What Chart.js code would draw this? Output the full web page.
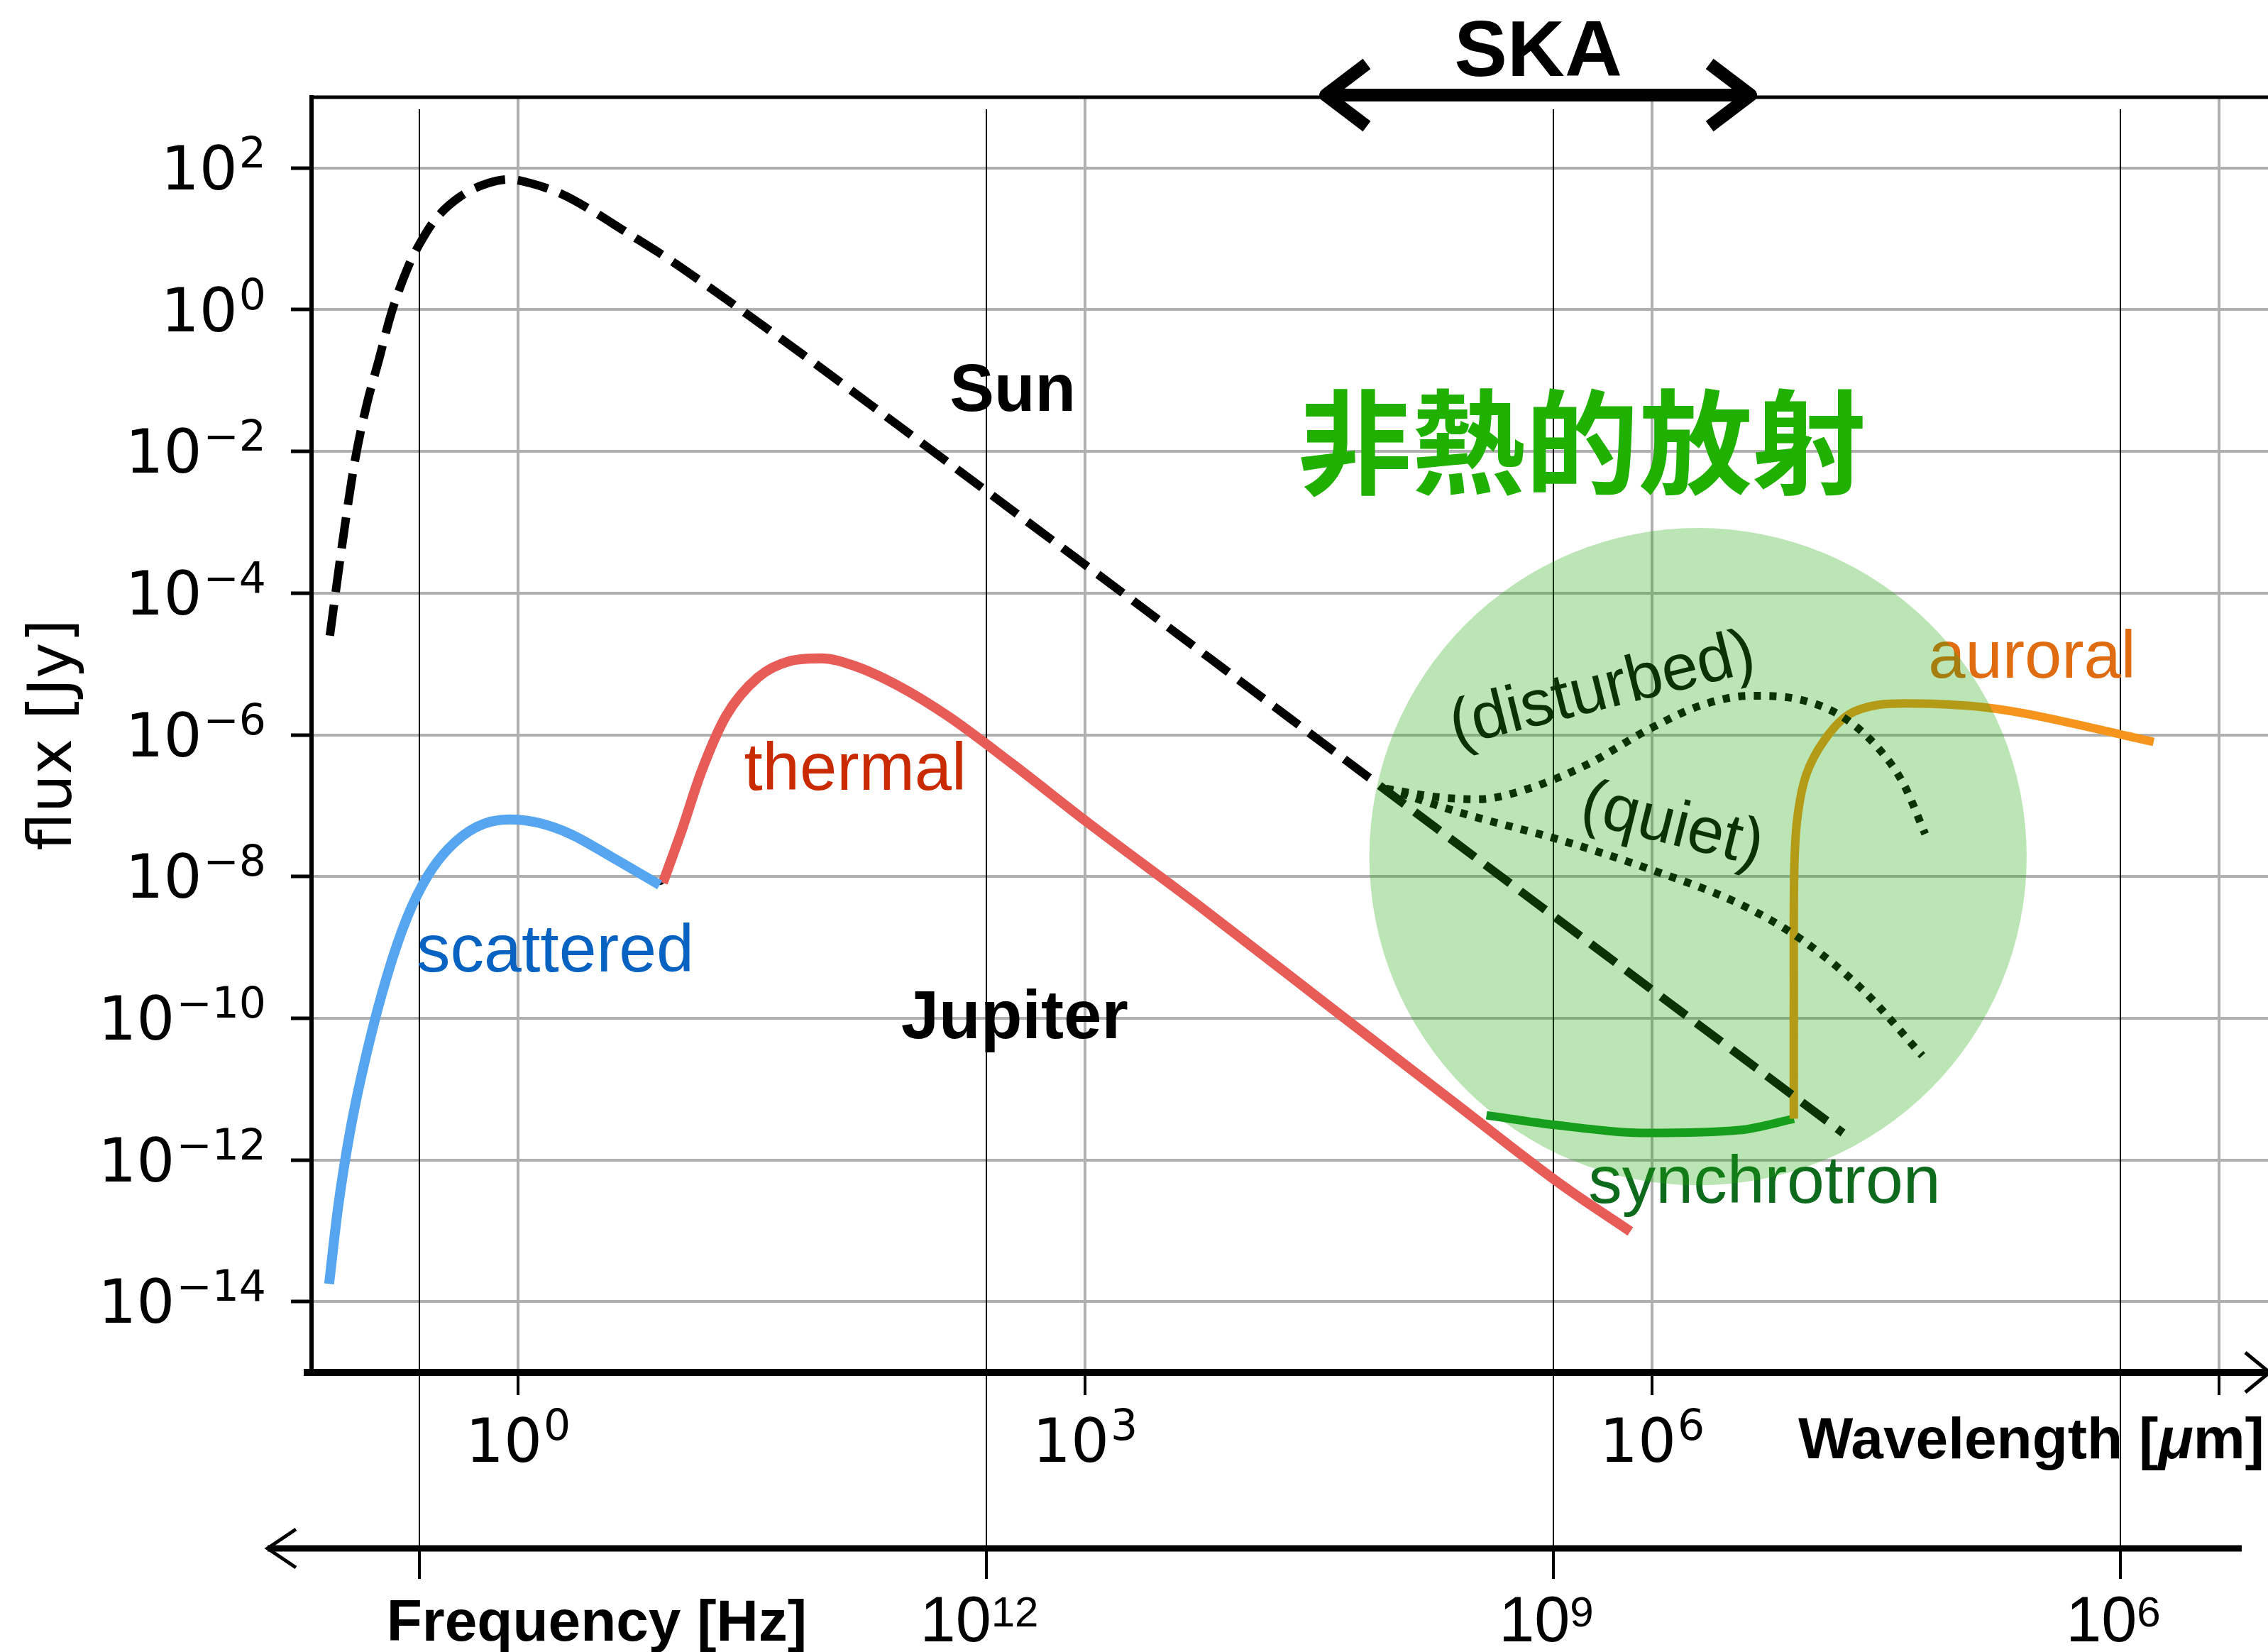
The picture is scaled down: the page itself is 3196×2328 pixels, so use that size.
<!DOCTYPE html>
<html>
<head>
<meta charset="utf-8">
<title>Sun / Jupiter spectra</title>
<script src="https://cdn.jsdelivr.net/npm/chart.js@4.4.1/dist/chart.umd.min.js"></script>
<style>
  html, body { margin: 0; padding: 0; background: #fff; }
  canvas { display: block; }
</style>
</head>
<body>
<canvas id="spectrumChart" width="3196" height="2328"></canvas>
<script>
// All curves: x = log10(wavelength [um]), y = log10(flux [Jy])

const sunX = [-0.996, -0.931, -0.866, -0.801, -0.736, -0.672, -0.586, -0.521, -0.435, -0.305, -0.155, -0.047, 0.06, 0.233, 0.384, 0.557, 0.8, 1.0, 1.5, 2.0, 3.0, 4.0, 4.6, 5.5, 6.3, 7.01];
const sunY = [-4.60, -3.32, -2.17, -1.34, -0.70, -0.06, 0.58, 0.93, 1.285, 1.60, 1.79, 1.84, 1.79, 1.63, 1.41, 1.12, 0.71, 0.34, -0.62, -1.61, -3.6, -5.6, -6.8, -8.6, -10.2, -11.62];

const jupiterX = [-0.96, -0.9, -0.82, -0.71, -0.6, -0.49, -0.38, -0.22, -0.05, 0.1, 0.28, 0.5, 0.755, 0.86, 0.96, 1.1, 1.27, 1.44, 1.61, 1.78, 2.01, 2.28, 2.62, 3.02, 3.62, 4.29, 4.96, 5.46];
const jupiterY = [-12.9, -11.75, -10.6, -9.45, -8.6, -8.0, -7.6, -7.29, -7.2, -7.23, -7.4, -7.73, -8.1, -7.38, -6.56, -5.75, -5.2, -4.97, -4.93, -5.03, -5.31, -5.75, -6.43, -7.27, -8.49, -9.86, -11.2, -12.18];

const scatteredX = [-1.0, -0.952, -0.887, -0.801, -0.693, -0.586, -0.478, -0.37, -0.219, -0.047, 0.104, 0.277, 0.492, 0.749];
const scatteredY = [-13.75, -12.66, -11.57, -10.49, -9.40, -8.57, -7.99, -7.61, -7.30, -7.195, -7.24, -7.40, -7.72, -8.12];

const thermalX = [0.766, 0.866, 0.967, 1.10, 1.269, 1.436, 1.604, 1.772, 2.006, 2.274, 2.61, 3.01, 3.616, 4.286, 4.957, 5.52, 5.885];
const thermalY = [-8.09, -7.35, -6.54, -5.735, -5.19, -4.96, -4.92, -5.02, -5.30, -5.735, -6.40, -7.23, -8.44, -9.82, -11.2, -12.35, -13.01];

const synchrotronX = [5.124, 5.495, 5.98, 6.462, 6.751];
const synchrotronY = [-11.37, -11.51, -11.62, -11.58, -11.42];

const auroralX = [6.750, 6.750, 6.752, 6.768, 6.816, 6.913, 7.04, 7.203, 7.43, 7.75, 8.07, 8.654];
const auroralY = [-11.42, -9.65, -7.96, -7.19, -6.56, -6.07, -5.715, -5.574, -5.56, -5.61, -5.75, -6.10];

const disturbedX = [4.593, 4.851, 5.076, 5.334, 5.656, 5.98, 6.27, 6.526, 6.784, 7.01, 7.203, 7.332, 7.445];
const disturbedY = [-6.76, -6.875, -6.91, -6.77, -6.42, -5.926, -5.574, -5.448, -5.504, -5.75, -6.207, -6.70, -7.40];

const quietX = [4.593, 5.012, 5.495, 5.98, 6.462, 6.784, 7.107, 7.43];
const quietY = [-6.76, -7.12, -7.47, -7.89, -8.386, -8.878, -9.58, -10.53];

// axes
const wavelengthTicks = [0, 3, 6, 9];
const wavelengthTickLabels = ['0', '3', '6', ''];
const fluxTicks = [2, 0, -2, -4, -6, -8, -10, -12, -14];
const freqTicks = [15, 12, 9, 6];            // log10 Hz
const freqTickLabels = ['', '12', '9', '6'];
const skaRange = [4.25, 6.545];              // log10 um
const nonThermalCentre = [6.243, -7.72];
const nonThermalRadius = 1.739;              // decades of wavelength

const LIGHT_C = 2.998e14; // um / s

const toPoints = (xs, ys) => xs.map((x, i) => ({ x: x, y: ys[i] }));

const drawPower = (ctx, base, exp, x, y, o) => {
    ctx.font = `${o.size}px ${o.family}`;
    const wBase = ctx.measureText(base).width;
    ctx.font = `${o.expSize}px ${o.family}`;
    const wExp = ctx.measureText(exp).width;
    const total = wBase + o.gap + wExp;
    let left = x;
    if (o.align === 'right') left = x - total;
    if (o.align === 'center') left = x - total / 2;
    ctx.textAlign = 'left';
    ctx.textBaseline = 'alphabetic';
    ctx.font = `${o.size}px ${o.family}`;
    ctx.fillText(base, left, y);
    ctx.font = `${o.expSize}px ${o.family}`;
    ctx.fillText(exp, left + wBase + o.gap, y - o.rise);
};

const expText = v => (v < 0 ? '\u2212' + (-v) : String(v));

const SANS = '"Liberation Sans", Arial, sans-serif';
const DEJAVU = '"DejaVu Sans", sans-serif';

const overlayPlugin = {
    id: 'overlay',
    beforeDatasetsDraw(chart) {
        const { ctx, chartArea: a, scales: { x } } = chart;
        ctx.save();
        // thin frequency guide lines
        ctx.strokeStyle = '#000';
        ctx.lineWidth = 2;
        freqTicks.forEach(f => {
            const px = Math.round(x.getPixelForValue(Math.log10(LIGHT_C) - f));
            ctx.beginPath();
            ctx.moveTo(px, a.top + 17);
            ctx.lineTo(px, a.bottom + 248);
            ctx.stroke();
        });
        ctx.restore();
    },
    afterDatasetsDraw(chart) {
        const { ctx, scales: { x, y } } = chart;
        const notes = [
            { text: 'Sun', x: 2.617, y: -1.43, font: `bold 94px ${SANS}`, color: '#000', align: 'center' },
            { text: 'Jupiter', x: 2.627, y: -10.28, font: `bold 96px ${SANS}`, color: '#000', align: 'center' },
            { text: 'thermal', x: 1.784, y: -6.78, font: `94px ${SANS}`, color: '#c92a00', align: 'center' },
            { text: 'scattered', x: -0.537, y: -9.34, font: `95px ${SANS}`, color: '#0862c2', align: 'left' },
            { text: 'synchrotron', x: 5.663, y: -12.61, font: `95px ${SANS}`, color: '#0e6b1e', align: 'left' },
            { text: 'auroral', x: 7.461, y: -5.19, font: `94px ${SANS}`, color: '#e06c12', align: 'left' },
            { text: '(disturbed)', x: 5.738, y: -5.38, font: `92px ${SANS}`, color: '#000', align: 'center', rot: -14 },
            { text: '(quiet)', x: 6.106, y: -7.29, font: `92px ${SANS}`, color: '#000', align: 'center', rot: 14 }
        ];
        ctx.save();
        notes.forEach(n => {
            ctx.save();
            ctx.translate(x.getPixelForValue(n.x), y.getPixelForValue(n.y));
            ctx.font = n.font;
            ctx.fillStyle = n.color;
            ctx.textAlign = n.align;
            if (n.rot) {
                ctx.rotate(n.rot * Math.PI / 180);
                ctx.textBaseline = 'middle';
            } else {
                ctx.textBaseline = 'alphabetic';
            }
            ctx.fillText(n.text, 0, 0);
            ctx.restore();
        });

        // translucent green disc over the non-thermal region
        const cx = x.getPixelForValue(nonThermalCentre[0]);
        const cy = y.getPixelForValue(nonThermalCentre[1]);
        const r = x.getPixelForValue(nonThermalCentre[0] + nonThermalRadius) - cx;
        ctx.beginPath();
        ctx.arc(cx, cy, r, 0, Math.PI * 2);
        ctx.fillStyle = 'rgba(30, 170, 10, 0.3)';
        ctx.fill();

        ctx.font = `bold 160px "Noto Sans CJK JP", "Noto Sans CJK SC", sans-serif`;
        ctx.fillStyle = '#20b000';
        ctx.textAlign = 'center';
        ctx.textBaseline = 'alphabetic';
        ctx.fillText('非熱的放射', x.getPixelForValue(5.629), y.getPixelForValue(-2.48));
        ctx.restore();
    },
    afterDraw(chart) {
        const { ctx, chartArea: a, scales: { x, y } } = chart;
        ctx.save();
        ctx.strokeStyle = '#000';
        ctx.fillStyle = '#000';

        // top frame and left stub of the bottom axis
        ctx.lineWidth = 5;
        ctx.beginPath();
        ctx.moveTo(a.left - 3, a.top);
        ctx.lineTo(a.right, a.top);
        ctx.stroke();
        ctx.lineWidth = 10;
        ctx.beginPath();
        ctx.moveTo(a.left - 11, a.bottom);
        ctx.lineTo(a.left, a.bottom);
        ctx.stroke();

        // arrow head at right end of wavelength axis
        ctx.lineWidth = 5;
        ctx.beginPath();
        ctx.moveTo(a.right - 32, a.bottom - 28);
        ctx.lineTo(a.right + 2, a.bottom);
        ctx.lineTo(a.right - 32, a.bottom + 28);
        ctx.stroke();

        // frequency axis
        const fy = a.bottom + 248;
        const fLeft = a.left - 62;
        ctx.lineWidth = 9;
        ctx.beginPath();
        ctx.moveTo(fLeft, fy);
        ctx.lineTo(a.right - 37, fy);
        ctx.stroke();
        ctx.lineWidth = 5;
        ctx.beginPath();
        ctx.moveTo(fLeft + 40, fy - 27);
        ctx.lineTo(fLeft, fy);
        ctx.lineTo(fLeft + 40, fy + 27);
        ctx.stroke();
        freqTicks.forEach((f, i) => {
            const px = Math.round(x.getPixelForValue(Math.log10(LIGHT_C) - f));
            ctx.lineWidth = 4;
            ctx.beginPath();
            ctx.moveTo(px, fy + 4);
            ctx.lineTo(px, fy + 43);
            ctx.stroke();
            if (freqTickLabels[i]) {
                drawPower(ctx, '10', freqTickLabels[i], px - 10, a.bottom + 379,
                    { family: SANS, size: 90, expSize: 60, rise: 21, gap: 0, align: 'center' });
            }
        });
        const f15 = x.getPixelForValue(Math.log10(LIGHT_C) - freqTicks[0]);
        ctx.font = `bold 82px ${SANS}`;
        ctx.textAlign = 'left';
        ctx.textBaseline = 'alphabetic';
        ctx.fillText('Frequency [Hz]', f15 - 46, a.bottom + 378);

        // wavelength tick labels
        wavelengthTicks.forEach((v, i) => {
            if (!wavelengthTickLabels[i]) return;
            drawPower(ctx, '10', wavelengthTickLabels[i], x.getPixelForValue(v), a.bottom + 126,
                { family: DEJAVU, size: 85, expSize: 60, rise: 31, gap: 2, align: 'center' });
        });
        // axis name with an italic mu
        let wx = a.right - 662;
        const wy = a.bottom + 121;
        ctx.textAlign = 'left';
        [['Wavelength [', 'bold'], ['\u03bc', 'italic bold'], ['m]', 'bold']].forEach(([t, w]) => {
            ctx.font = `${w} 82px ${SANS}`;
            ctx.fillText(t, wx, wy);
            wx += ctx.measureText(t).width;
        });

        // flux tick labels
        fluxTicks.forEach(v => {
            drawPower(ctx, '10', expText(v), a.left - 64, y.getPixelForValue(v) + 30,
                { family: DEJAVU, size: 85, expSize: 60, rise: 31, gap: 2, align: 'right' });
        });
        ctx.save();
        ctx.translate(a.left - 339, (a.top + a.bottom) / 2);
        ctx.rotate(-Math.PI / 2);
        ctx.font = `85px ${DEJAVU}`;
        ctx.textAlign = 'center';
        ctx.fillText('flux [Jy]', 0, 0);
        ctx.restore();

        // SKA band arrow
        const x1 = x.getPixelForValue(skaRange[0]);
        const x2 = x.getPixelForValue(skaRange[1]);
        const ay = a.top - 3;
        ctx.lineWidth = 18;
        ctx.lineJoin = 'round';
        ctx.beginPath();
        ctx.moveTo(x1 + 6, ay);
        ctx.lineTo(x2 - 6, ay);
        ctx.stroke();
        ctx.beginPath();
        ctx.moveTo(x1 + 64, ay - 44);
        ctx.lineTo(x1 + 6, ay);
        ctx.lineTo(x1 + 64, ay + 44);
        ctx.stroke();
        ctx.beginPath();
        ctx.moveTo(x2 - 64, ay - 44);
        ctx.lineTo(x2 - 6, ay);
        ctx.lineTo(x2 - 64, ay + 44);
        ctx.stroke();
        ctx.font = `bold 112px ${SANS}`;
        ctx.textAlign = 'center';
        ctx.fillText('SKA', (x1 + x2) / 2, ay - 27);

        ctx.restore();
    }
};

const lineSet = (label, xs, ys, color, width, extra) => Object.assign({
    label: label,
    data: toPoints(xs, ys),
    borderColor: color,
    backgroundColor: color,
    borderWidth: width,
    pointRadius: 0,
    fill: false,
    cubicInterpolationMode: 'monotone'
}, extra || {});

const ctx = document.getElementById('spectrumChart').getContext('2d');

new Chart(ctx, {
    type: 'line',
    data: {
        datasets: [
            lineSet('Jupiter', jupiterX, jupiterY, '#000', 4, { order: 10 }),
            lineSet('scattered', scatteredX, scatteredY, '#56a5f0', 14, { order: 8 }),
            lineSet('thermal', thermalX, thermalY, '#e85c58', 14, { order: 8 }),
            lineSet('synchrotron', synchrotronX, synchrotronY, '#139a25', 12, { order: 6 }),
            lineSet('auroral', auroralX, auroralY, '#f5951e', 12, { order: 5, cubicInterpolationMode: 'default', tension: 0.3 }),
            lineSet('Sun', sunX, sunY, '#000', 12, { order: 3, borderDash: [44, 18] }),
            lineSet('disturbed', disturbedX, disturbedY, '#000', 11, { order: 2, borderDash: [10, 12] }),
            lineSet('quiet', quietX, quietY, '#000', 11, { order: 2, borderDash: [10, 12] })
        ]
    },
    options: {
        responsive: false,
        animation: false,
        devicePixelRatio: 1,
        layout: { padding: { left: 410, top: 137, right: 0, bottom: 362 } },
        plugins: {
            legend: { display: false },
            tooltip: { enabled: false }
        },
        scales: {
            x: {
                type: 'linear',
                min: -1.093,
                max: 9.259,
                afterBuildTicks: axis => { axis.ticks = wavelengthTicks.map(v => ({ value: v })); },
                ticks: { display: false },
                grid: { color: '#b0b0b0', lineWidth: 4, tickLength: 32, tickColor: '#000', tickWidth: 4 },
                border: { color: '#000', width: 10 }
            },
            y: {
                type: 'linear',
                min: -15,
                max: 3,
                afterBuildTicks: axis => { axis.ticks = fluxTicks.map(v => ({ value: v })); },
                ticks: { display: false },
                grid: { color: '#b0b0b0', lineWidth: 4, tickLength: 29, tickColor: '#000', tickWidth: 5 },
                border: { color: '#000', width: 6 }
            }
        }
    },
    plugins: [overlayPlugin]
});
</script>
</body>
</html>
